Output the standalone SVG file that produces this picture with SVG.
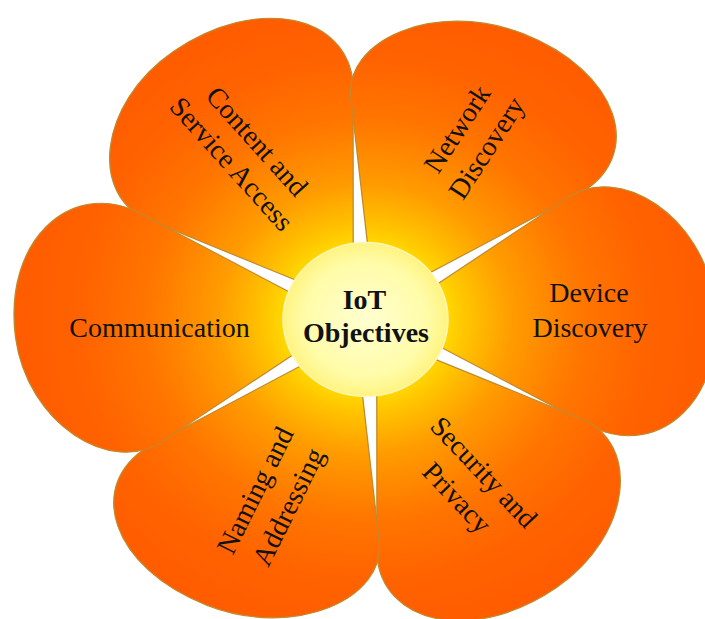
<svg xmlns="http://www.w3.org/2000/svg" xmlns:xlink="http://www.w3.org/1999/xlink" width="705" height="619" viewBox="0 0 705 619">
  <style>
    .petal { fill: url(#petalGrad); stroke: #C08A2E; stroke-width: 1.3; vector-effect: non-scaling-stroke; }
    .lbl { font-family: "Liberation Serif", "Times New Roman", serif; font-size: 28px; fill: #111; text-anchor: middle; }
    .ctr { font-family: "Liberation Serif", "Times New Roman", serif; font-size: 28px; font-weight: bold; fill: #111; text-anchor: middle; }
  </style>
  <defs>
    <radialGradient id="petalGrad" gradientUnits="userSpaceOnUse" cx="0" cy="0" r="350">
      <stop offset="0.2" stop-color="#FFE400"/>
      <stop offset="0.29" stop-color="#FFC400"/>
      <stop offset="0.42" stop-color="#FF9C00"/>
      <stop offset="0.62" stop-color="#FF7600"/>
      <stop offset="0.82" stop-color="#FF6200"/>
      <stop offset="1" stop-color="#FF5C00"/>
    </radialGradient>
    <radialGradient id="centerGrad" cx="0.5" cy="0.5" r="0.5">
      <stop offset="0" stop-color="#FFFFD0"/>
      <stop offset="0.75" stop-color="#FFFCA8"/>
      <stop offset="1" stop-color="#FFF380"/>
    </radialGradient>
    <path id="petal" d="M21,0 L210,-118 C265,-154 345,-90 350,5 C355,110 285,172 220,134 Z"/>
  </defs>
  <rect width="705" height="619" fill="#FFFFFF"/>

  <g id="node-content">
    <use xlink:href="#petal" href="#petal" class="petal" transform="translate(365,319.5) scale(1,0.915) rotate(236)"/>
    <g transform="translate(250,147.5) rotate(48)">
      <text class="lbl" x="0" y="0">Content and</text>
      <text class="lbl" x="0" y="34">Service Access</text>
    </g>
  </g>
  <g id="node-network">
    <use xlink:href="#petal" href="#petal" class="petal" transform="translate(365,319.5) scale(1,0.915) rotate(296)"/>
    <g transform="translate(465,134) rotate(-57)">
      <text class="lbl" x="0" y="0">Network</text>
      <text class="lbl" x="0" y="35">Discovery</text>
    </g>
  </g>
  <g id="node-device">
    <use xlink:href="#petal" href="#petal" class="petal" transform="translate(365,319.5) scale(1,0.915) rotate(-4)"/>
    <text class="lbl" x="589" y="302">Device</text>
    <text class="lbl" x="590" y="337">Discovery</text>
  </g>
  <g id="node-security">
    <use xlink:href="#petal" href="#petal" class="petal" transform="translate(365,319.5) scale(1,0.915) rotate(56)"/>
    <g transform="translate(477,478.6) rotate(46.6)">
      <text class="lbl" x="0" y="0">Security and</text>
      <text class="lbl" x="0" y="37">Privacy</text>
    </g>
  </g>
  <g id="node-naming">
    <use xlink:href="#petal" href="#petal" class="petal" transform="translate(365,319.5) scale(1,0.915) rotate(116)"/>
    <g transform="translate(263.5,494.5) rotate(-63.5)">
      <text class="lbl" x="0" y="0">Naming and</text>
      <text class="lbl" x="0" y="37">Addressing</text>
    </g>
  </g>
  <g id="node-communication">
    <use xlink:href="#petal" href="#petal" class="petal" transform="translate(365,319.5) scale(1,0.915) rotate(176)"/>
    <text class="lbl" x="159.5" y="337">Communication</text>
  </g>

  <g id="node-center">
    <ellipse cx="365.5" cy="319.5" rx="82.5" ry="77" fill="url(#centerGrad)" stroke="#FFF6B8" stroke-width="1.5"/>
    <text class="ctr" x="364.5" y="309">IoT</text>
    <text class="ctr" x="366" y="342">Objectives</text>
  </g>
</svg>
